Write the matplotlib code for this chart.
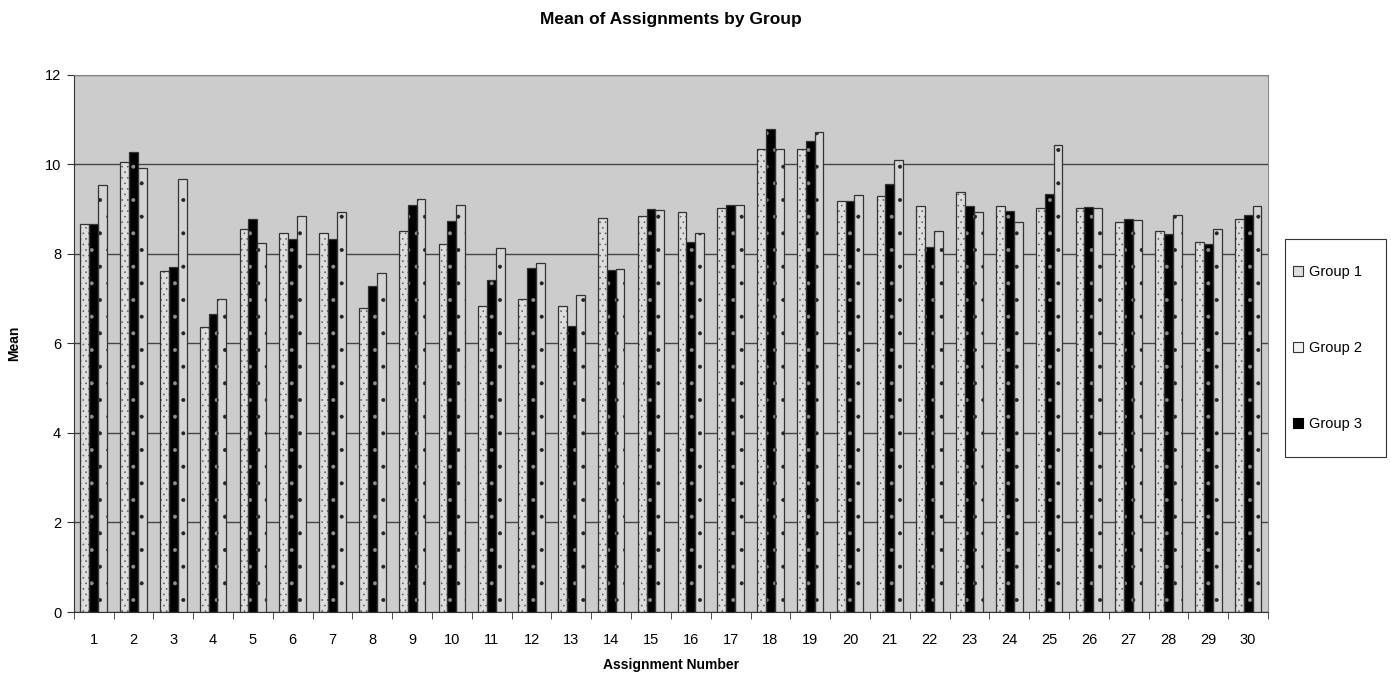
import numpy as np
import matplotlib
matplotlib.use("Agg")
import matplotlib.pyplot as plt
from matplotlib.patches import Patch, Rectangle

plt.rcParams["font.family"] = ["Liberation Sans", "DejaVu Sans"]
plt.rcParams["hatch.linewidth"] = 0.4

assignments = [str(i) for i in range(1, 31)]

group1 = [8.67, 10.04, 7.62, 6.37, 8.55, 8.47, 8.47, 6.80, 8.52, 8.21,
          6.84, 6.98, 6.84, 8.81, 8.85, 8.94, 9.03, 10.35, 10.35, 9.19,
          9.28, 9.06, 9.37, 9.06, 9.03, 9.03, 8.72, 8.52, 8.26, 8.77]
group3 = [8.67, 10.27, 7.70, 6.65, 8.77, 8.34, 8.34, 7.27, 9.10, 8.73,
          7.41, 7.68, 6.38, 7.63, 8.99, 8.26, 9.10, 10.78, 10.52, 9.19,
          9.57, 8.15, 9.06, 8.95, 9.33, 9.04, 8.77, 8.44, 8.22, 8.87]
group2 = [9.53, 9.92, 9.66, 6.98, 8.25, 8.85, 8.93, 7.57, 9.23, 9.10,
          8.12, 7.79, 7.07, 7.65, 8.98, 8.47, 9.10, 10.35, 10.73, 9.32,
          10.09, 8.51, 8.93, 8.72, 10.42, 9.02, 8.76, 8.86, 8.55, 9.07]

fig = plt.figure(figsize=(13.91, 6.73), dpi=100)
ax = fig.add_axes([0.053, 0.0906, 0.8586, 0.7984])
ax.set_facecolor("#cccccc")

x = np.arange(len(assignments))
w = 1 / 4.5

# (values, offset, face, hatch, hatch colour)
series = [
    (group1, -w, "#dddddd", "...", "#555555"),
    (group3, 0, "#000000", ".", "#909090"),
    (group2, w, "#d4d4d4", ".", "#222222"),
]
for vals, off, face, hatch, hc in series:
    ax.bar(x + off, vals, w, color=face, hatch=hatch, edgecolor=hc,
           linewidth=0, zorder=2)
    ax.bar(x + off, vals, w, fill=False, edgecolor="#333333",
           linewidth=0.9, zorder=3)

ax.set_xlim(-0.5, len(assignments) - 0.5)
ax.set_ylim(0, 12)
ax.set_yticks(range(0, 13, 2))
ax.yaxis.grid(True, color="#444444", linewidth=1.0, zorder=1)
ax.set_axisbelow(True)

ax.set_xticks(x)
ax.set_xticklabels(assignments, fontsize=10.5)
ax.set_xticks(np.arange(-0.5, len(assignments), 1), minor=True)
ax.tick_params(axis="x", which="major", length=0, pad=15)
ax.tick_params(axis="x", which="minor", length=5, direction="out", color="#333333")
ax.tick_params(axis="y", length=5, direction="out", labelsize=10.5, pad=4, color="#333333")

for s in ["top", "right"]:
    ax.spines[s].set_color("#888888")
for s in ["left", "bottom"]:
    ax.spines[s].set_color("#333333")

ax.set_xlabel("Assignment Number", fontsize=10, fontweight="bold", labelpad=8)
ax.set_ylabel("Mean", fontsize=10, fontweight="bold", labelpad=17)
fig.suptitle("Mean of Assignments by Group", fontsize=12.5, fontweight="bold",
             x=0.482, y=0.982)

# legend box drawn separately so the padding can differ per side
fig.add_artist(Rectangle((0.9238, 0.321), 0.0726, 0.324, transform=fig.transFigure,
                         facecolor="white", edgecolor="#333333", linewidth=0.8))
handles = [
    Patch(facecolor="#dddddd", edgecolor="#333333", linewidth=0.8, label="Group 1"),
    Patch(facecolor="#f2f2f2", edgecolor="#333333", linewidth=0.8, label="Group 2"),
    Patch(facecolor="#000000", edgecolor="#000000", linewidth=0.8, label="Group 3"),
]
fig.legend(handles=handles, loc="center left",
           bbox_to_anchor=(0.9295, 0.483), fontsize=10.5, frameon=False,
           labelspacing=4.25, borderpad=0, handlelength=0.7, handleheight=0.7,
           handletextpad=0.4, borderaxespad=0)

fig.savefig("out.png", dpi=100)
